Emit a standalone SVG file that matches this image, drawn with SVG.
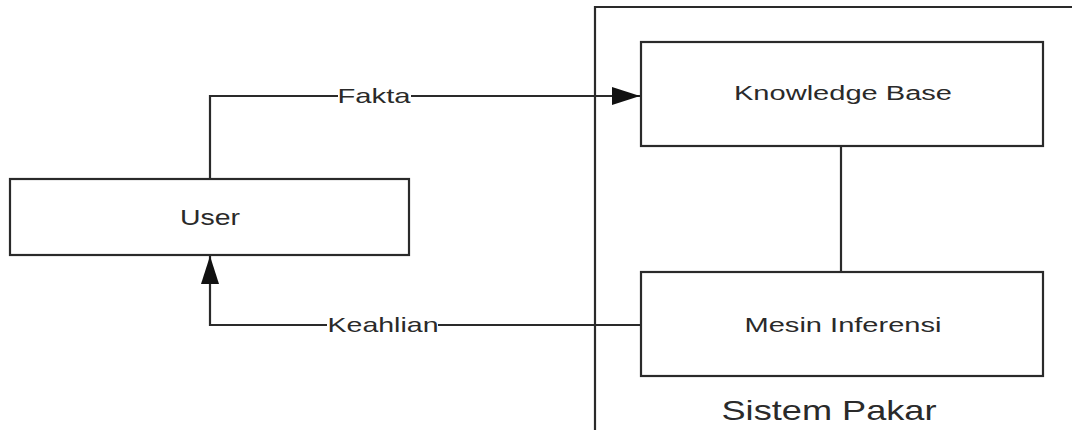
<svg xmlns="http://www.w3.org/2000/svg" width="1072" height="430" viewBox="0 0 1072 430">
  <style>
    .box { fill: #ffffff; stroke: #2a2a2a; stroke-width: 2.2; }
    .line { fill: none; stroke: #2a2a2a; stroke-width: 2.2; }
    .lbl { font-family: "Liberation Sans", Arial, sans-serif; fill: #2a2a2a; text-anchor: middle; }
    .bg { fill: #ffffff; }
  </style>
  <defs>
    <marker id="arrowBig" viewBox="0 0 10 10" refX="10" refY="5" markerWidth="28" markerHeight="18" markerUnits="userSpaceOnUse" orient="auto" preserveAspectRatio="none">
      <path d="M0,0 L10,5 L0,10 Z" fill="#111111"/>
    </marker>
  </defs>
  <rect width="1072" height="430" fill="#ffffff"/>

  <!-- expert system boundary -->
  <g id="sistem-pakar">
    <path class="line" d="M595,440 L595,7 L1080,7"/>
    <text class="lbl" x="829" y="420" font-size="28" textLength="215" lengthAdjust="spacingAndGlyphs">Sistem Pakar</text>
  </g>

  <!-- connectors -->
  <g id="connectors">
    <path class="line" d="M841,146 L841,272"/>
    <path class="line" d="M210,179 L210,96 L640,96" marker-end="url(#arrowBig)"/>
    <path class="line" d="M641,325 L210,325 L210,256" marker-end="url(#arrowBig)"/>
    <rect class="bg" x="338" y="86" width="73" height="20"/>
    <text class="lbl" x="374" y="103" font-size="21" textLength="73" lengthAdjust="spacingAndGlyphs">Fakta</text>
    <rect class="bg" x="327" y="315" width="111" height="20"/>
    <text class="lbl" x="383" y="332" font-size="21" textLength="111" lengthAdjust="spacingAndGlyphs">Keahlian</text>
  </g>

  <g id="user">
    <rect class="box" x="10" y="179" width="399" height="76"/>
    <text class="lbl" x="210" y="225" font-size="22" textLength="60" lengthAdjust="spacingAndGlyphs">User</text>
  </g>

  <g id="knowledge-base">
    <rect class="box" x="641" y="42" width="402" height="104"/>
    <text class="lbl" x="843" y="100" font-size="20" textLength="218" lengthAdjust="spacingAndGlyphs">Knowledge Base</text>
  </g>

  <g id="mesin-inferensi">
    <rect class="box" x="641" y="272" width="402" height="104"/>
    <text class="lbl" x="843" y="332" font-size="20" textLength="197" lengthAdjust="spacingAndGlyphs">Mesin Inferensi</text>
  </g>
</svg>
